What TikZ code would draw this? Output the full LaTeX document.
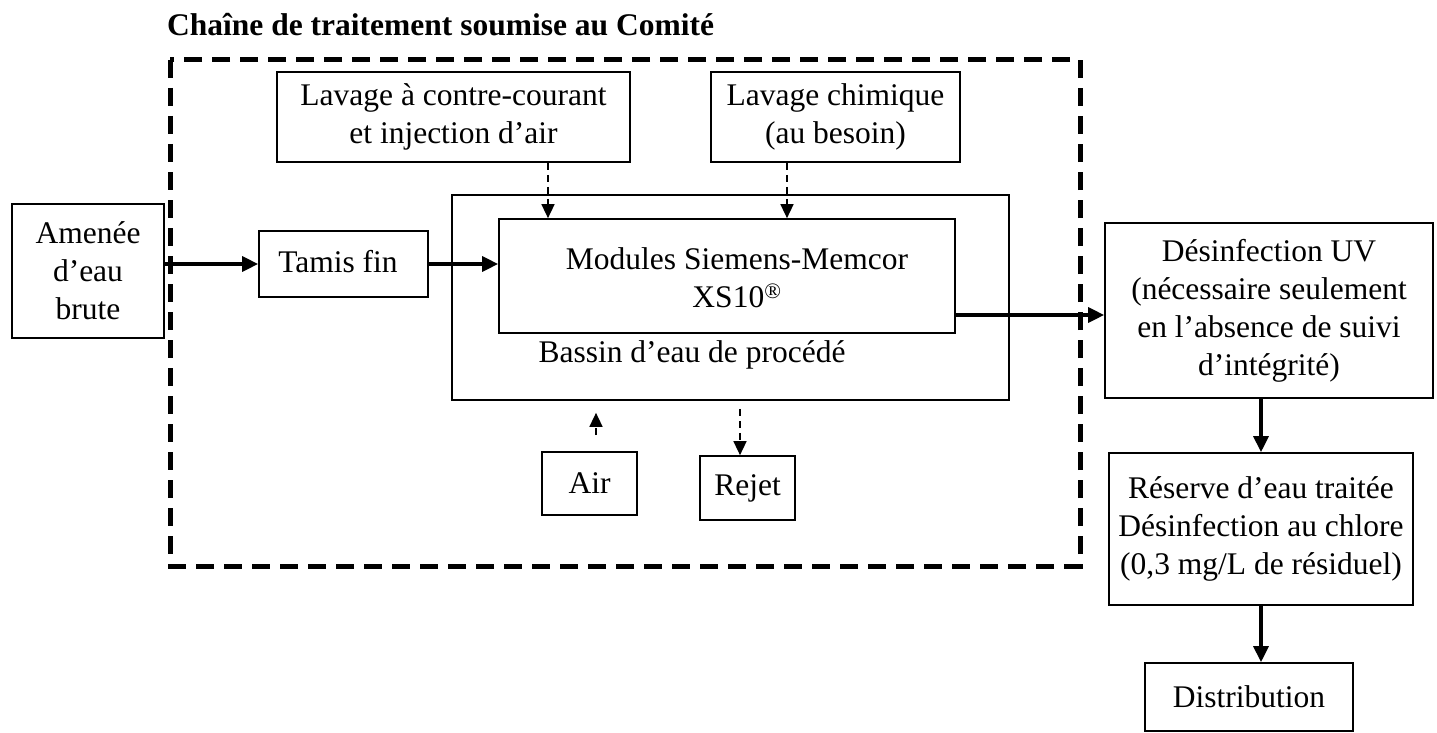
\documentclass[tikz,border=0pt]{standalone}
\usepackage{fontspec}
\setmainfont{Liberation Serif}
\usetikzlibrary{arrows.meta}
\begin{document}
\begin{tikzpicture}[x=1pt,y=-1pt,
  box/.style={draw, line width=1.7pt, align=center, inner sep=0pt, font=\fontsize{31.5}{38}\selectfont},
  plain/.style={align=center, inner sep=0pt, font=\fontsize{31.5}{38}\selectfont},
  thickarrow/.style={line width=3.2pt, -{Triangle[length=16pt,width=15pt]}},
  dasharrow/.style={line width=1.5pt, dash pattern=on 7pt off 5pt, -{Triangle[length=14pt,width=13pt]}},
  frame/.style={line width=5pt, dash pattern=on 18pt off 10pt}
]
\useasboundingbox (0,0) rectangle (1437,733);
\fill[white] (0,0) rectangle (1437,733);

\node[anchor=base west, inner sep=0pt, font=\bfseries\fontsize{31.5}{38}\selectfont] (title) at (167,36) {Chaîne de traitement soumise au Comité};

\draw[frame] (170,60) rectangle (1080,566);

\node[box, minimum width=152pt, minimum height=134pt] (amenee) at (88,271) {Amenée\\d’eau\\brute};
\node[box, minimum width=169pt, minimum height=66pt] (tamis) at (343.5,264) {};
\node[plain] (tamistxt) at (338,262) {Tamis fin};
\node[box, minimum width=353pt, minimum height=90pt] (lav1) at (453.5,117) {Lavage à contre-courant\\et injection d’air};
\node[box, minimum width=249pt, minimum height=90pt] (lav2) at (835.5,117) {Lavage chimique\\(au besoin)};
\node[box, minimum width=557pt, minimum height=205pt] (bassin) at (730.5,297.5) {};
\node[plain] (bassintxt) at (692,355) {Bassin d’eau de procédé};
\node[box, minimum width=456pt, minimum height=114pt] (modules) at (727,276) {};
\node[plain] (modtxt) at (737,278) {Modules Siemens-Memcor\\XS10\textsuperscript{®}};
\node[box, minimum width=328pt, minimum height=175pt] (uv) at (1269,310.5) {Désinfection UV\\(nécessaire seulement\\en l’absence de suivi\\d’intégrité)};
\node[box, minimum width=304pt, minimum height=152pt] (reserve) at (1261,529) {Réserve d’eau traitée\\Désinfection au chlore\\(0,3 mg/L de résiduel)};
\node[box, minimum width=208pt, minimum height=68pt] (distrib) at (1249,697) {Distribution};
\node[box, minimum width=95pt, minimum height=63pt] (air) at (589.5,483.5) {Air};
\node[box, minimum width=95pt, minimum height=64pt] (rejet) at (747.5,488) {Rejet};

\draw[thickarrow] (amenee.east |- tamis.west) -- (tamis.west);
\draw[thickarrow] (tamis.east) -- (tamis.east -| modules.west);
\coordinate (m2u) at ([yshift=-39pt]modules.east);
\draw[thickarrow] (m2u) -- (m2u -| uv.west);
\draw[thickarrow] (uv.south -| reserve.north) -- (reserve.north);
\draw[thickarrow] (reserve.south) -- (reserve.south |- distrib.north);

\draw[dasharrow] ([xshift=94.5pt]lav1.south) -- ([xshift=94.5pt]lav1.south |- modules.north);
\draw[dasharrow] ([xshift=-48.5pt]lav2.south) -- ([xshift=-48.5pt]lav2.south |- modules.north);
\draw[dasharrow, shorten <=16pt, shorten >=12pt] ([xshift=6.5pt]air.north) -- ([xshift=6.5pt]air.north |- bassin.south);
\draw[dasharrow, shorten <=8pt] ([xshift=-7.5pt]rejet.north |- bassin.south) -- ([xshift=-7.5pt]rejet.north);
\end{tikzpicture}
\end{document}
